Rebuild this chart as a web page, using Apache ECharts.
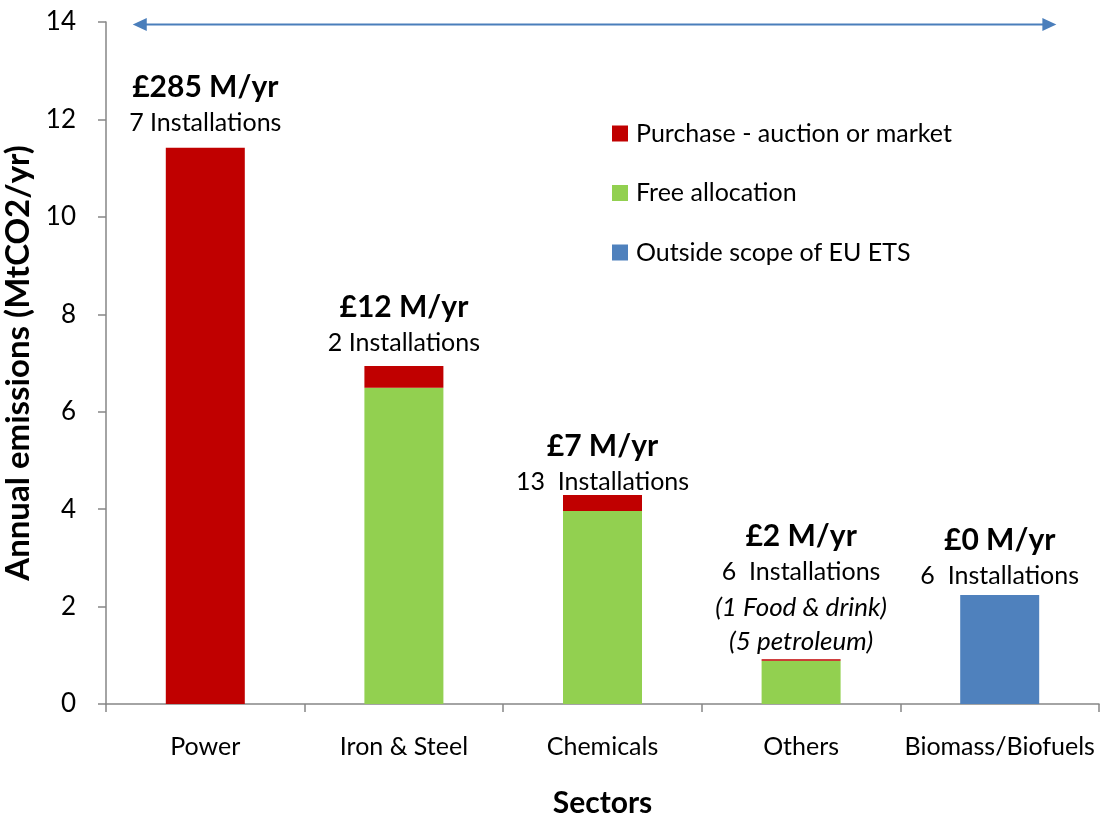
<!DOCTYPE html>
<html>
<head>
<meta charset="utf-8">
<script src="https://cdn.jsdelivr.net/npm/echarts@6/dist/echarts.min.js"></script>
<style>
  html, body { margin: 0; padding: 0; background: #fff; }
  #chart { width: 1102px; height: 817px; }
</style>
</head>
<body>
<div id="chart"></div>
<script>
// sectors on the x axis
var sectors = ['Power', 'Iron & Steel', 'Chemicals', 'Others', 'Biomass/Biofuels']

// annual emissions, MtCO2/yr
var freeAllocation = [0, 6.49, 3.96, 0.89, 0]
var purchase = [11.42, 0.45, 0.33, 0.03, 0]
var outsideScope = [0, 0, 0, 0, 2.24]

// text above each bar
var costLabels = ['£285 M/yr', '£12 M/yr', '£7 M/yr', '£2 M/yr', '£0 M/yr']
var installLabels = ['7 Installations', '2 Installations', '13  Installations', '6  Installations', '6  Installations']
var noteLabels = ['', '', '', '(1 Food & drink)\n(5 petroleum)', '']

var yTicks = { min: 0, max: 14, interval: 2 }

// double arrow across the top (x in category units, y in MtCO2/yr)
var arrowEnds = [[-0.33, 13.95], [4.25, 13.95]]

// gap (px) between each text block and its bar, as placed in the original
var LABEL_GAP = [7, 5, -5, 1, 1]

var FONT = 'Lato, "Open Sans", sans-serif'

var labelPoints = sectors.map(function (s, i) {
  return {
    value: [s, freeAllocation[i] + purchase[i] + outsideScope[i]],
    label: { distance: LABEL_GAP[i] }
  }
})

var chart = echarts.init(document.getElementById('chart'))
chart.setOption({
  animation: false,
  textStyle: { fontFamily: FONT, color: '#000' },
  grid: { left: 106, right: 3, top: 22, bottom: 113, containLabel: false, outerBoundsMode: 'none' },
  legend: {
    orient: 'vertical',
    left: 612,
    top: 121,
    padding: 0,
    itemWidth: 16,
    itemHeight: 16,
    itemGap: 34.5,
    icon: 'rect',
    data: ['Purchase - auction or market', 'Free allocation', 'Outside scope of EU ETS'],
    textStyle: { fontFamily: FONT, fontSize: 25, color: '#000', padding: [0, 0, 0, 3] }
  },
  xAxis: [{
    type: 'category',
    data: sectors,
    axisLine: { onZero: false, lineStyle: { color: '#868686', width: 1.5 } },
    axisTick: { show: true, length: 8, lineStyle: { color: '#868686', width: 1.5 } },
    axisLabel: { color: '#000', fontSize: 25, margin: 30, interval: 0, fontFamily: FONT },
    name: 'Sectors',
    nameLocation: 'middle',
    nameGap: 84,
    nameTextStyle: { fontSize: 30, fontWeight: 'bold', color: '#000', fontFamily: FONT }
  }, {
    type: 'value',
    min: -0.5,
    max: 4.5,
    show: false
  }],
  yAxis: {
    type: 'value',
    min: yTicks.min,
    max: yTicks.max,
    interval: yTicks.interval,
    axisLine: { show: true, onZero: false, lineStyle: { color: '#868686', width: 1.5 } },
    axisTick: { show: true, length: 8, lineStyle: { color: '#868686', width: 1.5 } },
    splitLine: { show: false },
    axisLabel: { color: '#000', fontSize: 26, margin: 30, fontFamily: FONT },
    name: 'Annual emissions (MtCO2/yr)',
    nameLocation: 'middle',
    nameGap: 56,
    nameRotate: 90,
    nameTextStyle: { fontSize: 33, fontWeight: 'bold', color: '#000', fontFamily: FONT }
  },
  series: [
    {
      name: 'Free allocation',
      type: 'bar',
      stack: 'em',
      barWidth: 79,
      itemStyle: { color: '#92D050' },
      data: freeAllocation
    },
    {
      name: 'Purchase - auction or market',
      type: 'bar',
      stack: 'em',
      barWidth: 79,
      itemStyle: { color: '#C00000' },
      data: purchase
    },
    {
      name: 'Outside scope of EU ETS',
      type: 'bar',
      stack: 'em',
      barWidth: 79,
      itemStyle: { color: '#4F81BD' },
      data: outsideScope
    },
    {
      name: 'labels',
      type: 'scatter',
      symbolSize: 0,
      silent: true,
      itemStyle: { opacity: 1 },
      data: labelPoints,
      label: {
        show: true,
        position: 'top',
        align: 'center',
        color: '#000',
        formatter: function (p) {
          var i = p.dataIndex
          var s = '{cost|' + costLabels[i] + '}\n{inst|' + installLabels[i] + '}'
          if (noteLabels[i]) {
            s += '\n' + noteLabels[i].split('\n').map(function (t) {
              return '{note|' + t + '}'
            }).join('\n')
          }
          return s
        },
        rich: {
          cost: { fontSize: 30, fontWeight: 'bold', lineHeight: 35, fontFamily: FONT, color: '#000' },
          inst: { fontSize: 25, lineHeight: 36, fontFamily: FONT, color: '#000' },
          note: { fontSize: 26, fontStyle: 'italic', lineHeight: 34, fontFamily: FONT, color: '#000' }
        }
      }
    },
    {
      name: 'arrow',
      type: 'line',
      xAxisIndex: 1,
      silent: true,
      data: arrowEnds,
      symbol: 'triangle',
      symbolSize: [13, 14],
      showSymbol: true,
      symbolRotate: function (v, p) { return p.dataIndex === 0 ? 90 : -90 },
      itemStyle: { color: '#4A7EBB' },
      lineStyle: { color: '#4A7EBB', width: 2 }
    }
  ]
})
</script>
</body>
</html>
